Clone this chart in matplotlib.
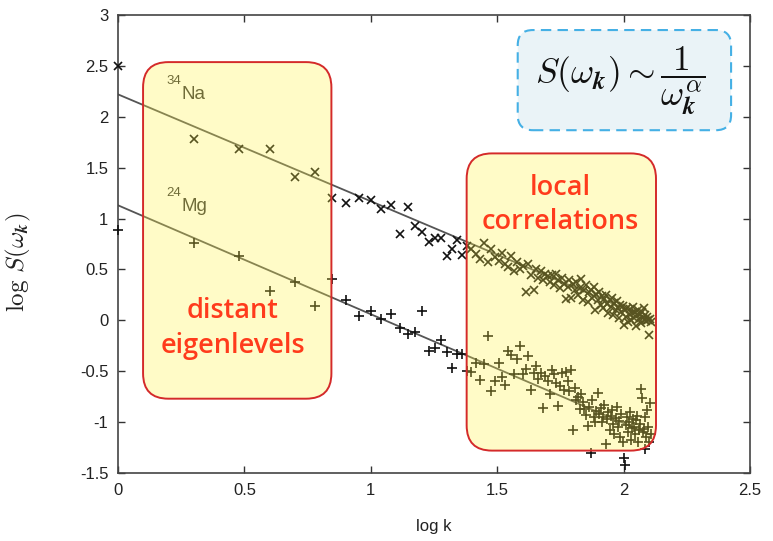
import numpy as np
import matplotlib.pyplot as plt
from matplotlib.patches import FancyBboxPatch

plt.rcParams['mathtext.fontset'] = 'cm'

# k = 1..128, plotted against log10(k)
k = np.arange(1, 129)

# log S(w_k) for 34Na (x markers)
na_vals = [
    2.50, 1.78, 1.68, 1.68, 1.41, 1.46, 1.20, 1.15, 1.20, 1.18,
    1.09, 1.13, 0.85, 1.11, 0.93, 0.87, 0.77, 0.81, 0.81, 0.63,
    0.70, 0.79, 0.64, 0.73, 0.70, 0.65, 0.60, 0.76, 0.57, 0.70,
    0.62, 0.58, 0.66, 0.55, 0.52, 0.63, 0.48, 0.57, 0.50, 0.53,
    0.28, 0.55, 0.45, 0.30, 0.50, 0.42, 0.48, 0.40, 0.46, 0.44,
    0.38, 0.45, 0.35, 0.46, 0.40, 0.32, 0.42, 0.36, 0.21, 0.33,
    0.40, 0.22, 0.36, 0.30, 0.38, 0.25, 0.32, 0.41, 0.20, 0.30,
    0.35, 0.18, 0.28, 0.30, 0.22, 0.33, 0.10, 0.26, 0.20, 0.28,
    0.15, 0.24, 0.12, 0.21, 0.25, 0.16, 0.07, 0.20, 0.13, 0.22,
    0.05, 0.17, 0.10, 0.19, 0.12, 0.02, 0.15, 0.08, 0.14, -0.05,
    0.10, 0.03, 0.12, -0.02, 0.06, 0.11, 0.00, 0.07, 0.13, 0.02,
    0.08, -0.06, 0.05, 0.10, 0.01, 0.06, -0.03, 0.08, 0.02, 0.12,
    0.00, 0.05, -0.01, 0.03, 0.00, -0.14, 0.01, -0.02,
]

# log S(w_k) for 24Mg (+ markers)
mg_vals = [
    0.89, 0.76, 0.63, 0.29, 0.38, 0.14, 0.41, 0.20, 0.04, 0.09,
    0.01, 0.06, -0.08, -0.13, -0.11, 0.09, -0.30, -0.27, -0.19, -0.31,
    -0.47, -0.33, -0.33, -0.50, -0.51, -0.42, -0.59, -0.43, -0.15, -0.69,
    -0.60, -0.42, -0.56, -0.64, -0.30, -0.34, -0.53, -0.38, -0.25, -0.53,
    -0.48, -0.35, -0.68, -0.52, -0.45, -0.58, -0.52, -0.86, -0.55, -0.60,
    -0.72, -0.49, -0.53, -0.62, -0.84, -0.65, -0.52, -0.68, -0.51, -0.60,
    -0.69, -0.49, -1.08, -0.66, -0.78, -0.75, -0.87, -0.72, -0.80, -0.87,
    -0.93, -1.04, -0.85, -1.30, -0.78, -0.95, -1.00, -0.89, -0.71, -0.92,
    -0.86, -1.00, -0.95, -0.83, -1.22, -0.97, -0.90, -1.08, -0.94, -0.88,
    -1.02, -1.12, -0.96, -0.85, -1.05, -0.99, -1.15, -0.92, -1.20, -1.35,
    -1.42, -1.03, -0.95, -1.10, -1.00, -0.90, -1.18, -1.06, -0.97, -1.05,
    -1.12, -0.98, -0.94, -1.20, -1.08, -1.02, -0.67, -0.76, -1.10, -1.07,
    -0.95, -1.26, -1.15, -0.88, -1.05, -1.20, -0.81, -1.12,
]

# fitted power laws: (intercept, slope)
na_fit = (2.22, -1.05)
mg_fit = (1.13, -1.07)

xticks = [0, 0.5, 1, 1.5, 2, 2.5]
yticks = [-1.5, -1, -0.5, 0, 0.5, 1, 1.5, 2, 2.5, 3]

log_k = np.log10(k)

fig = plt.figure(figsize=(7.73, 5.41), dpi=100)
ax = fig.add_axes([0.1527, 0.1257, 0.8176, 0.8466])

ax.plot(log_k, na_vals, 'x', color='#111111', ms=5.5, mew=1.2, clip_on=False, zorder=3)
ax.plot(log_k, mg_vals, '+', color='#111111', ms=7.5, mew=1.2, clip_on=False, zorder=3)

xf = np.array([0, log_k[-1]])
ax.plot(xf, na_fit[0] + na_fit[1] * xf, color='#555555', lw=1.3, zorder=2)
ax.plot(xf, mg_fit[0] + mg_fit[1] * xf, color='#555555', lw=1.3, zorder=2)

# isotope labels (sans superscript drawn as its own text)
for y, sup, name in [(2.22, '34', 'Na'), (1.12, '24', 'Mg')]:
    ax.annotate(sup, (0.19, y), xytext=(0, 5), textcoords='offset points',
                fontsize=9.5, color='#333333', family='Liberation Sans',
                va='bottom', ha='left', zorder=2)
    ax.annotate(name, (0.19, y), xytext=(11, 0), textcoords='offset points',
                fontsize=13.5, color='#333333', family='Liberation Sans',
                va='center', ha='left', zorder=2)

ax.set_xlim(0, 2.5)
ax.set_ylim(-1.5, 3)

# aspect between y and x data units on screen
asp = (4.5 / 458) / (2.5 / 632)

for (x0, x1, y0, y1) in [(0.099, 0.844, -0.77, 2.537), (1.379, 2.128, -1.28, 1.64)]:
    fill = FancyBboxPatch((x0, y0), x1 - x0, y1 - y0,
                          boxstyle='round,pad=0,rounding_size=0.1',
                          mutation_aspect=asp, facecolor=(1, 0.95, 0.28),
                          alpha=0.3, edgecolor='none', zorder=4)
    ax.add_patch(fill)
    edge = FancyBboxPatch((x0, y0), x1 - x0, y1 - y0,
                          boxstyle='round,pad=0,rounding_size=0.1',
                          mutation_aspect=asp, facecolor='none',
                          edgecolor='#d42a2a', lw=1.4, zorder=5)
    ax.add_patch(edge)

ax.text(0.455, -0.08, 'distant\neigenlevels', ha='center', va='center',
        fontsize=19.5, color='#ff3b1c', family='Open Sans', fontweight='semibold',
        linespacing=1.3, zorder=6)
ax.text(1.75, 1.13, 'local\ncorrelations', ha='center', va='center',
        fontsize=19.5, color='#ff3b1c', family='Open Sans', fontweight='semibold',
        linespacing=1.3, zorder=6)

fbox = FancyBboxPatch((1.581, 1.868), 0.844, 0.984,
                      boxstyle='round,pad=0,rounding_size=0.06',
                      mutation_aspect=asp, facecolor='#eaf3f7',
                      edgecolor='#45b0e5', lw=1.5, linestyle=(0, (5, 3)),
                      zorder=6)
ax.add_patch(fbox)
ax.text(1.985, 2.36,
        r'$S(\omega_{\mathbfit{k}})\sim\dfrac{1}{\omega_{\mathbfit{k}}^{\alpha}}$',
        ha='center', va='center', fontsize=25.5, color='#111111', zorder=7)

ax.set_xticks(xticks)
ax.set_xticklabels([f'{t:g}' for t in xticks])
ax.set_yticks(yticks)
ax.set_yticklabels([f'{t:g}' for t in yticks])
ax.tick_params(direction='in', top=True, right=True, length=5, width=1,
               labelsize=12, colors='#333333', labelcolor='#222222', pad=7)
for lab in ax.get_xticklabels() + ax.get_yticklabels():
    lab.set_family('Liberation Sans')
for s in ax.spines.values():
    s.set_color('#444444')
    s.set_linewidth(1.2)

ax.set_xlabel('log k', fontsize=12, family='Liberation Sans', color='#222222')
ax.xaxis.set_label_coords(0.5, -0.10)
ax.set_ylabel(r'$\log\,S(\omega_{\mathbfit{k}})$', fontsize=18, color='#222222')
ax.yaxis.set_label_coords(-0.134, 0.46)

fig.savefig('out.png', dpi=100)
